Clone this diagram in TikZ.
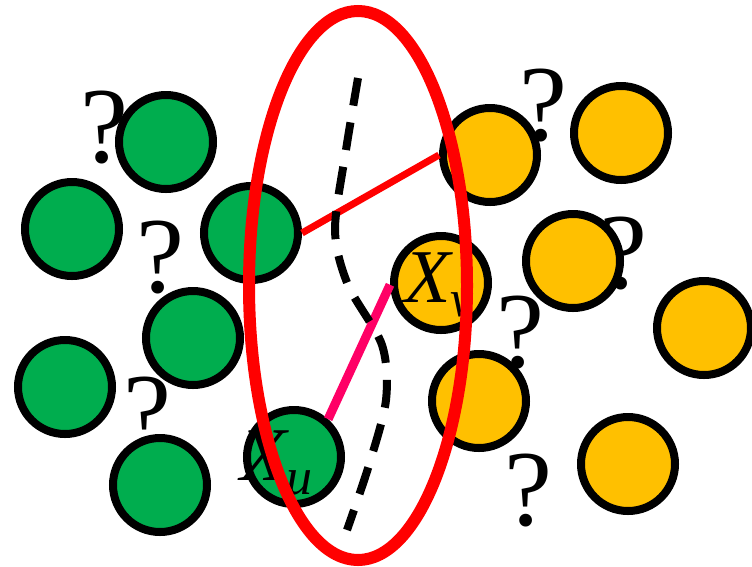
\documentclass[tikz,border=0pt]{standalone}
\usepackage{fontspec}
\setmainfont{Liberation Serif}
\definecolor{grn}{HTML}{00AD4E}
\definecolor{gld}{HTML}{FFC000}
\definecolor{pnk}{HTML}{FF0066}
\newcommand{\lowsub}[1]{\raisebox{-14pt}{\fontsize{52}{52}\selectfont #1}}
\tikzset{
  dot/.style={circle,draw=black,line width=8pt,minimum size=94pt,inner sep=0pt},
  gdot/.style={dot,fill=grn},
  ydot/.style={dot,fill=gld},
  qm/.style={inner sep=0pt,font=\fontsize{108}{108}\selectfont},
  xlab/.style={inner sep=0pt,anchor=base west,font=\fontsize{76}{76}\selectfont\itshape}
}

\begin{document}
\begin{tikzpicture}[x=1pt,y=-1pt]
  \useasboundingbox (0,0) rectangle (752,566);
  \foreach \n/\x/\y in {q1/104/128,q2/160/258,q3/147/413,q4/543/106,q5/623/254,q6/520/333,q7/528/490}
    \node[qm] (\n) at (\x,\y) {?};
  \foreach \n/\x/\y in {g1/166/142,g2/72/229,g3/251/233,g4/193/338,g5/65/387,g6/160/485,xu/294/457}
    \node[gdot] (\n) at (\x,\y) {};
  \foreach \n/\x/\y in {y1/490/155,y2/621/133,xv/441/283,y4/573/261,y5/704/328,y6/479/401,y7/628/464}
    \node[ydot] (\n) at (\x,\y) {};
  \draw[red,line width=7pt] (g3.east) -- (y1.west);
  \draw[pnk,line width=9pt] (xu.48) -- (xv.182);
  \node[xlab] (lu) at (240,480) {X\lowsub{u}};
  \node[xlab] (lv) at (404,302) {X\lowsub{v}};
  \draw[line width=8pt,dash pattern=on 28pt off 17pt]
    plot[smooth] coordinates {(358,78) (346,150) (335,230) (348,285) (382,345) (386,400) (369,465) (347,530)};
  \draw[red,line width=12pt] (358,285.5) ellipse [x radius=109pt,y radius=274.5pt];
\end{tikzpicture}
\end{document}
